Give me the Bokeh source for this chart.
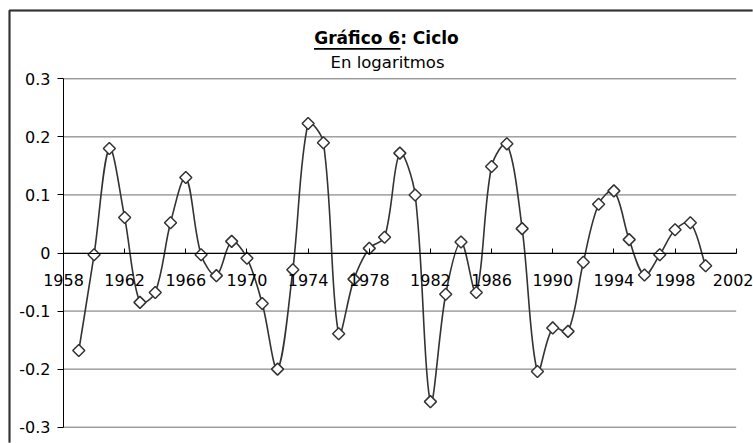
import math
from bokeh.plotting import figure
from bokeh.models import Range1d, FixedTicker, Label, BoxAnnotation
from bokeh.embed import file_html
from bokeh.resources import INLINE

years = list(range(1959, 2001))
ciclo = [-0.168, -0.003, 0.180, 0.061, -0.085, -0.068, 0.052, 0.130, -0.003, -0.039,
         0.020, -0.009, -0.087, -0.200, -0.029, 0.223, 0.190, -0.139, -0.045, 0.008,
         0.027, 0.172, 0.100, -0.256, -0.071, 0.019, -0.068, 0.149, 0.188, 0.042,
         -0.204, -0.129, -0.135, -0.016, 0.084, 0.107, 0.023, -0.038, -0.003, 0.040,
         0.052, -0.022]
x_ticks = [1958, 1962, 1966, 1970, 1974, 1978, 1982, 1986, 1990, 1994, 1998, 2002]
y_ticks = [-0.3, -0.2, -0.1, 0.0, 0.1, 0.2, 0.3]
y_tick_labels = ["-0.3", "-0.2", "-0.1", "0", "0.1", "0.2", "0.3"]
title_text = "Gráfico 6: Ciclo"
subtitle_text = "En logaritmos"

FONT = "DejaVu Sans"
W, H = 753, 443
# plot-area placement in pixels (left/right of x axis, top/bottom of y axis)
PX_L, PX_R, PY_T, PY_B = 63.0, 735.7, 78.3, 426.7
XMIN, XMAX, YMIN, YMAX = 1958, 2002, -0.3, 0.3
sx = (PX_R - PX_L) / (XMAX - XMIN)
sy = (PY_B - PY_T) / (YMAX - YMIN)


def dx(px):
    return XMIN + (px - PX_L) / sx


def dy(py):
    return YMAX - (py - PY_T) / sy


p = figure(width=W, height=H, output_backend="svg", toolbar_location=None, title=None,
           x_range=Range1d(dx(0), dx(W)), y_range=Range1d(dy(H), dy(0)),
           min_border_left=0, min_border_right=0, min_border_top=0, min_border_bottom=0)
p.outline_line_color = None
p.background_fill_color = "white"
p.border_fill_color = "white"

# chart border: top and left edges (right/bottom fall outside the window)
p.line(x=[dx(W - 1), dx(9), dx(9)], y=[dy(10), dy(10), dy(H - 1)],
       line_color="#333333", line_width=2)
p.add_layout(BoxAnnotation(left=dx(9), right=dx(W + 30), top=dy(10), bottom=dy(H + 30),
                           fill_color=None, line_color="#333333", line_width=2))

# gridlines over the plot area
p.xgrid.grid_line_color = None
p.ygrid.grid_line_color = None
p.segment(x0=[XMIN] * len(y_ticks), x1=[XMAX] * len(y_ticks), y0=y_ticks, y1=y_ticks,
          line_color="#6e6e6e", line_width=1)

# axes
p.xaxis.ticker = FixedTicker(ticks=x_ticks)
p.xaxis.fixed_location = 0
p.xaxis.bounds = (XMIN, XMAX)
p.xaxis.axis_line_color = "black"
p.xaxis.major_tick_in = 5
p.xaxis.major_tick_out = 0
p.xaxis.minor_tick_line_color = None
p.xaxis.major_label_standoff = 21
p.xaxis.major_label_text_font = FONT
p.xaxis.major_label_text_font_size = "16px"
p.xaxis.major_label_text_color = "black"

p.yaxis.ticker = FixedTicker(ticks=y_ticks)
p.yaxis.fixed_location = XMIN
p.yaxis.bounds = (YMIN, YMAX)
p.yaxis.major_label_overrides = {t: l for t, l in zip(y_ticks, y_tick_labels)}
p.yaxis.axis_line_color = "black"
p.yaxis.major_tick_in = 0
p.yaxis.major_tick_out = 6
p.yaxis.minor_tick_line_color = None
p.yaxis.major_label_standoff = 7
p.yaxis.major_label_text_font = FONT
p.yaxis.major_label_text_font_size = "16px"
p.yaxis.major_label_text_color = "black"

# smoothed line: tangent-based cubic Bezier with control lengths scaled by
# neighbouring segment lengths (spreadsheet-style smoothing), measured on screen
n = len(years)
X = [(y - XMIN) * sx for y in years]
Y = [v * sy for v in ciclo]


def ctrl(i):
    pm, pp = max(i - 1, 0), min(i + 1, n - 1)
    tx, ty = X[pp] - X[pm], Y[pp] - Y[pm]
    d0 = math.hypot(X[i] - X[pm], Y[i] - Y[pm])
    d1 = math.hypot(X[pp] - X[i], Y[pp] - Y[i])
    s = d0 + d1
    f0 = d0 / s if s else 0
    f1 = d1 / s if s else 0
    t = 1.0 / 3.0
    cin = (X[i] - tx * t * f0, Y[i] - ty * t * f0)
    cout = (X[i] + tx * t * f1, Y[i] + ty * t * f1)
    return cin, cout


cs = [ctrl(i) for i in range(n)]
x0, y0, x1, y1, cx0, cy0, cx1, cy1 = [], [], [], [], [], [], [], []
for i in range(n - 1):
    x0.append(years[i]); y0.append(ciclo[i])
    x1.append(years[i + 1]); y1.append(ciclo[i + 1])
    cx0.append(XMIN + cs[i][1][0] / sx); cy0.append(cs[i][1][1] / sy)
    cx1.append(XMIN + cs[i + 1][0][0] / sx); cy1.append(cs[i + 1][0][1] / sy)
p.bezier(x0=x0, y0=y0, x1=x1, y1=y1, cx0=cx0, cy0=cy0, cx1=cx1, cy1=cy1,
         line_color="#333333", line_width=1.6)

p.scatter(years, ciclo, marker="square", angle=math.pi / 4, size=8.5,
          fill_color="white", line_color="#333333", line_width=1.5)

# titles
p.add_layout(Label(x=dx(386), y=dy(37), text=title_text, text_align="center",
                   text_baseline="alphabetic", text_font=FONT,
                   text_font_style="bold", text_font_size="17px", text_color="black"))
p.add_layout(Label(x=dx(387), y=dy(62), text=subtitle_text, text_align="center",
                   text_baseline="alphabetic", text_font=FONT,
                   text_font_size="16.5px", text_color="black"))
p.add_layout(BoxAnnotation(left=dx(313.5), right=dx(400), top=dy(47.4), bottom=dy(49.2),
                           fill_color="black", fill_alpha=1, line_color=None))

open("out.html", "w").write(file_html(p, INLINE))
